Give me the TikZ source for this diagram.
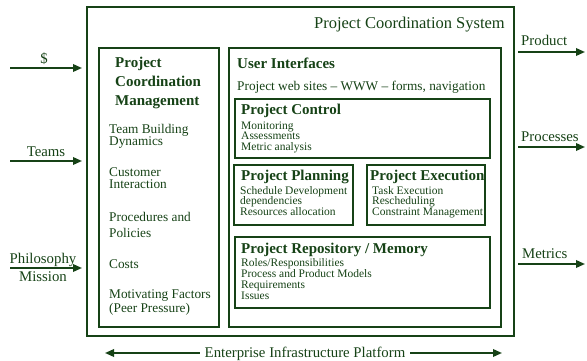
\documentclass[tikz,border=0pt]{standalone}
\usepackage{fontspec}
\setmainfont{Liberation Serif}
\usetikzlibrary{arrows.meta}
\definecolor{pcsgreen}{RGB}{22,66,22}

\begin{document}
\begin{tikzpicture}[x=1pt,y=-1pt,>={Triangle[length=9pt,width=7.5pt]},
	frame/.style={draw=pcsgreen, line width=1.8pt, inner sep=0pt, outer sep=0pt, anchor=north west},
	flow/.style={draw=pcsgreen, line width=1.8pt, ->},
	txt/.style={text=pcsgreen, inner sep=0pt, anchor=base west, align=left},
	headA/.style={txt, font=\fontsize{15}{19}\selectfont\bfseries},
	itemA/.style={txt, font=\fontsize{13.3}{11.5}\selectfont},
	itemB/.style={txt, font=\fontsize{11.5}{10.5}\selectfont},
	side/.style={txt, font=\fontsize{14.8}{18}\selectfont}]
	
	\useasboundingbox (0,0) rectangle (587,361);
	
	% --- Boxes
	\node[frame, minimum width=427pt, minimum height=329pt] (sys) at (87,7) {};
	\node[frame, minimum width=120pt, minimum height=279pt] (pcm) at (99,48) {};
	\node[frame, minimum width=272pt, minimum height=279pt] (ui) at (229,48) {};
	\node[frame, minimum width=255pt, minimum height=59pt] (control) at (235,99) {};
	\node[frame, minimum width=119pt, minimum height=60pt] (planning) at (234,165) {};
	\node[frame, minimum width=118pt, minimum height=60pt] (execution) at (367,165) {};
	\node[frame, minimum width=255pt, minimum height=71pt] (repo) at (235,237) {};
	
	% --- Texts inside (multi-line texts sit on their last baseline)
	\node[txt, anchor=base east, font=\fontsize{16.5}{19}\selectfont] (sysTitle) at (505,29) {Project Coordination System};
	\node[headA] (pcmHead) at (115,106) {Project\\Coordination\\Management};
	\node[itemA] (teamBuilding) at (109,146) {Team Building\\Dynamics};
	\node[itemA, font=\fontsize{13.3}{12}\selectfont] (customer) at (109,188) {Customer\\Interaction};
	\node[itemA, font=\fontsize{13.3}{16}\selectfont] (procedures) at (109,237) {Procedures and\\Policies};
	\node[itemA] (costs) at (109,268) {Costs};
	\node[itemA] (motivating) at (109,312) {Motivating Factors\\(Peer Pressure)};
	
	\node[headA] (uiHead) at (237,69) {User Interfaces};
	\node[itemA] (uiSites) at (237,91) {Project web sites -- WWW -- forms, navigation};
	\node[headA] (controlHead) at (241,114) {Project Control};
	\node[itemB] (controlItems) at (241,150) {Monitoring\\Assessments\\Metric analysis};
	\node[headA] (planningHead) at (241,180) {Project Planning};
	\node[itemB] (planningItems) at (240,215) {Schedule Development\\dependencies\\Resources allocation};
	\node[headA] (executionHead) at (370,180) {Project Execution};
	\node[itemB] (executionItems) at (372,215) {Task Execution\\Rescheduling\\Constraint Management};
	\node[headA] (repoHead) at (241,253) {Project Repository / Memory};
	\node[itemB, font=\fontsize{11.5}{11}\selectfont] (repoItems) at (241,299) {Roles/Responsibilities\\Process and Product Models\\Requirements\\Issues};
	
	% --- Inputs
	\coordinate (dollarIn) at (10,68);
	\coordinate (teamsIn) at (10,161);
	\coordinate (philoIn) at (10,268);
	\node[side, anchor=base] (dollarLbl) at (44,64) {\$};
	\node[side, anchor=base] (teamsLbl) at (46,157) {Teams};
	\node[side, anchor=base, align=center] (philoLbl) at (43,281) {Philosophy\\Mission};
	\draw[flow, shorten >=5pt] (dollarIn) -- (dollarIn -| sys.west);
	\draw[flow, shorten >=5pt] (teamsIn) -- (teamsIn -| sys.west);
	\draw[flow, shorten >=5pt] (philoIn) -- (philoIn -| sys.west);
	
	% --- Outputs
	\coordinate (productOut) at (585,52);
	\coordinate (processesOut) at (585,147);
	\coordinate (metricsOut) at (585,264);
	\node[side] (productLbl) at (521,46) {Product};
	\node[side] (processesLbl) at (521,142) {Processes};
	\node[side] (metricsLbl) at (522,258) {Metrics};
	\draw[flow, shorten <=4pt] (productOut -| sys.east) -- (productOut);
	\draw[flow, shorten <=4pt] (processesOut -| sys.east) -- (processesOut);
	\draw[flow, shorten <=4pt] (metricsOut -| sys.east) -- (metricsOut);
	
	% --- Platform
	\coordinate (platL) at (105,353);
	\coordinate (platR) at (502,353);
	\node[side, anchor=base, inner xsep=5pt] (platform) at (305,357) {Enterprise Infrastructure Platform};
	\draw[flow] (platform.west |- platL) -- (platL);
	\draw[flow] (platform.east |- platR) -- (platR);
	
\end{tikzpicture}
\end{document}
